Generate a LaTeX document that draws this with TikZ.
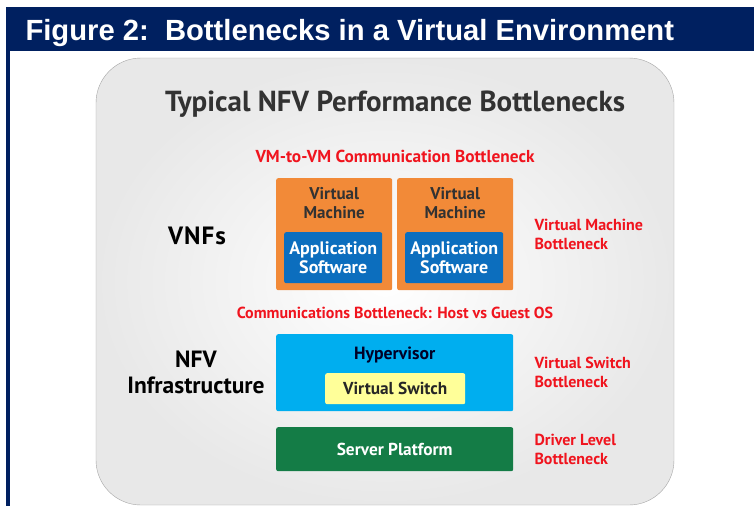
\documentclass[tikz,border=0pt]{standalone}
\usepackage{fontspec}
\setmainfont{PT Sans}
\newfontfamily\headfont{Liberation Sans}
\usetikzlibrary{positioning}
\usepackage{xcolor}
\definecolor{headnavy}{RGB}{0, 32, 96}
\definecolor{vmorange}{RGB}{242, 138, 56}
\definecolor{appblue}{RGB}{12, 110, 190}
\definecolor{hypcyan}{RGB}{0, 174, 239}
\definecolor{swyellow}{RGB}{255, 255, 153}
\definecolor{srvgreen}{RGB}{20, 124, 70}
\definecolor{bnred}{RGB}{240, 20, 30}
\definecolor{darktext}{RGB}{50, 50, 50}

\newcommand{\fs}[2]{\fontsize{#1}{#2}\selectfont}

\begin{document}
\begin{tikzpicture}[x=1pt, y=-1pt, every node/.style={font=\bfseries\fs{17.3}{19}}]
\tikzset{
  layer/.style={rounded corners=2pt, anchor=north west, inner sep=0pt},
  bnlabel/.style={text=bnred, align=left, anchor=west, font=\bfseries\fs{16}{19}},
  sidelabel/.style={align=center, font=\bfseries\fs{23.5}{26}}
}
\useasboundingbox (0,0) rectangle (754,506);
\fill[white] (0,0) rectangle (754,506);
% header band and left rule
\fill[headnavy] (6,7) rectangle (754,51);
\fill[headnavy] (6,51) rectangle (10,506);
\node[anchor=base west, text=white, font=\headfont\bfseries\fs{29.2}{32}] (fig) at (22,40) {Figure 2:\ \ Bottlenecks in a Virtual Environment};
% panel
\shade[inner color=white, outer color=black!9, draw=black!35, rounded corners=45pt] (96,58) rectangle (674,505);
\node[text=darktext, font=\bfseries\fs{29}{32}] (title) at (395,104) {Typical NFV Performance Bottlenecks};
\node[text=bnred] (vmvm) at (395,156) {VM-to-VM Communication Bottleneck};

% VNFs
\node[layer, fill=vmorange, minimum width=116pt, minimum height=112pt] (vm1) at (276,178) {};
\node[layer, fill=vmorange, minimum width=116pt, minimum height=112pt] (vm2) at (397,178) {};
\node[layer, fill=appblue, minimum width=98pt, minimum height=51pt] (app1) at (284,232) {};
\node[layer, fill=appblue, minimum width=98pt, minimum height=51pt] (app2) at (405,232) {};
\node[text=darktext, align=center, below=6pt of vm1.north, font=\bfseries\fs{17}{19}] (vmt1) {Virtual\\Machine};
\node[text=darktext, align=center, below=6pt of vm2.north, font=\bfseries\fs{17}{19}] (vmt2) {Virtual\\Machine};
\node[text=white, align=center, font=\bfseries\fs{18}{19}] (appt1) at (app1.center) {Application\\Software};
\node[text=white, align=center, font=\bfseries\fs{18}{19}] (appt2) at (app2.center) {Application\\Software};
\node[sidelabel, font=\bfseries\fs{25}{26}\addfontfeatures{LetterSpace=4}] (vnf) at (197,236) {VNFs};
\node[bnlabel] (vmbn) at (531,234) {Virtual Machine\\Bottleneck};

\node[text=bnred, font=\bfseries\fs{16}{19}] (hostbn) at (395,313) {Communications Bottleneck: Host vs Guest OS};

% NFV infrastructure
\node[layer, fill=hypcyan, minimum width=237pt, minimum height=77pt] (hyp) at (276,334) {};
\node[text=black!85!blue, below=9pt of hyp.north, font=\bfseries\fs{17.7}{19}] (hypt) {Hypervisor};
\node[layer, fill=swyellow, minimum width=140pt, minimum height=31pt] (vsw) at (325,373) {};
\node[text=black!85] (vswt) at (vsw.center) {Virtual Switch};
\node[layer, fill=srvgreen, minimum width=237pt, minimum height=44pt] (srv) at (276,427) {};
\node[text=white] (srvt) at (srv.center) {Server Platform};
\node[sidelabel] (infra) at (196,372) {NFV\\Infrastructure};
\node[bnlabel] (vswbn) at (531,372) {Virtual Switch\\Bottleneck};
\node[bnlabel] (drvbn) at (531,449) {Driver Level\\Bottleneck};
\end{tikzpicture}
\end{document}
